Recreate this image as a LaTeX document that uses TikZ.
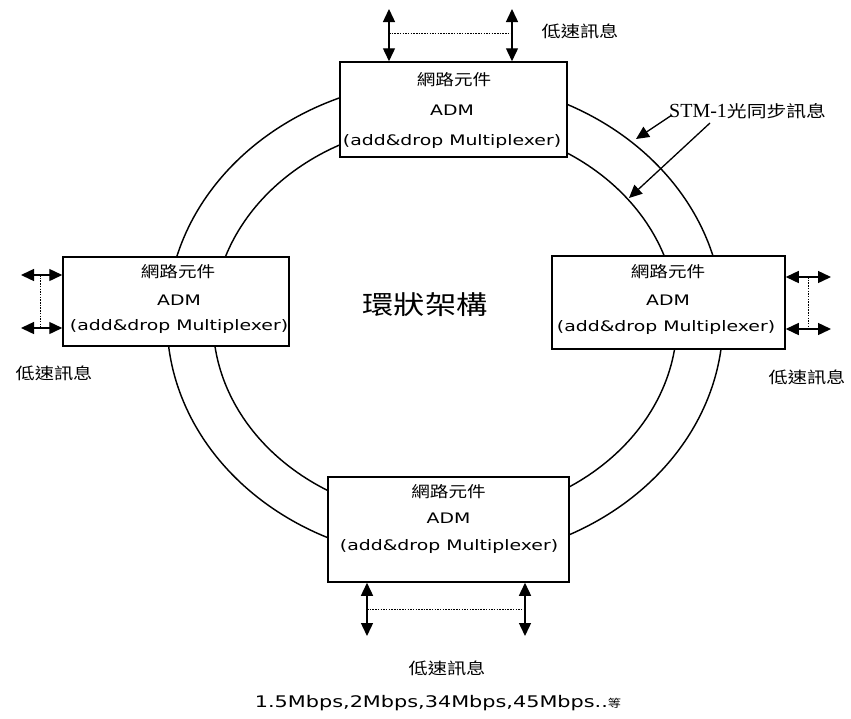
\documentclass[tikz,border=0pt]{standalone}
\usepackage{fontspec}
\setmainfont{Liberation Serif}
\newfontfamily\comic[FakeStretch=1.3]{DejaVu Sans}
\newfontfamily\cjkw[FakeStretch=1.2]{Noto Sans CJK TC}
\usetikzlibrary{arrows.meta}
\begin{document}
\begin{tikzpicture}[x=1pt,y=-1pt,
  ring/.style={line width=1.45pt},
  admbox/.style={draw, line width=1.5pt, fill=white, rectangle, inner sep=0pt},
  tipx/.tip={Triangle[length=13pt,width=12pt]},
  dbl/.style={line width=1.4pt, tipx-tipx},
  single/.style={line width=1.3pt, -tipx},
  dots/.style={line width=0.9pt, dash pattern=on 1.5pt off 1.2pt},
  cjkbox/.style={font={\fontsize{15.5pt}{17pt}\selectfont\cjkw}, inner sep=0pt},
  latbox/.style={font={\fontsize{14.5pt}{17pt}\selectfont\comic}, inner sep=0pt},
  cjklbl/.style={font={\fontsize{16pt}{18pt}\selectfont\cjkw}, inner sep=0pt},
]
\useasboundingbox (0,0) rectangle (851,718);
% ring
\draw[ring] (445,320) ellipse [x radius=278pt, y radius=240pt];
\draw[ring] (445,320.5) ellipse [x radius=232pt, y radius=197pt];

% boxes
\node[admbox, minimum width=227pt, minimum height=95pt] (top) at (453.5,109.5) {};
\node[admbox, minimum width=226pt, minimum height=89pt] (left) at (176,301.5) {};
\node[admbox, minimum width=233pt, minimum height=93pt] (right) at (668.5,302.5) {};
\node[admbox, minimum width=241pt, minimum height=105pt] (bot) at (448.5,529.5) {};

% box texts
\node[cjkbox] (t1) at (454,80) {網路元件};
\node[latbox] (t2) at (452,110) {ADM};
\node[latbox] (t3) at (452,141) {(add\&drop Multiplexer)};
\node[cjkbox] (l1) at (178,272) {網路元件};
\node[latbox] (l2) at (179,300) {ADM};
\node[latbox] (l3) at (179,326) {(add\&drop Multiplexer)};
\node[cjkbox] (r1) at (668,272) {網路元件};
\node[latbox] (r2) at (668,300) {ADM};
\node[latbox] (r3) at (666,327) {(add\&drop Multiplexer)};
\node[cjkbox] (b1) at (448.5,492) {網路元件};
\node[latbox] (b2) at (448.5,518) {ADM};
\node[latbox] (b3) at (449,546) {(add\&drop Multiplexer)};

% top low-speed arrows
\coordinate (ta) at (389,9);
\coordinate (tb) at (512,9);
\draw[dbl] (ta) -- (ta |- top.north);
\draw[dbl] (tb) -- (tb |- top.north);
\coordinate (tda) at (389,33);
\coordinate (tdb) at (512,33);
\draw[dots] (tda) -- (tdb);
\node[cjklbl] (tl) at (580,31) {低速訊息};

% left low-speed arrows
\coordinate (la) at (21,275);
\coordinate (lb) at (21,328);
\draw[dbl] (la) -- (la -| left.west);
\draw[dbl] (lb) -- (lb -| left.west);
\coordinate (lda) at (40,275);
\coordinate (ldb) at (40,328);
\draw[dots] (lda) -- (ldb);
\node[cjklbl] (ll) at (54,373) {低速訊息};

% right low-speed arrows
\coordinate (ra) at (831,277);
\coordinate (rb) at (831,329);
\draw[dbl] (ra -| right.east) -- (ra);
\draw[dbl] (rb -| right.east) -- (rb);
\coordinate (rda) at (808,277);
\coordinate (rdb) at (808,329);
\draw[dots] (rda) -- (rdb);
\node[cjklbl] (rl) at (807,377) {低速訊息};

% bottom low-speed arrows
\coordinate (ba) at (367,636);
\coordinate (bb) at (525,636);
\draw[dbl] (ba |- bot.south) -- (ba);
\draw[dbl] (bb |- bot.south) -- (bb);
\coordinate (bda) at (367,609);
\coordinate (bdb) at (525,609);
\draw[dots] (bda) -- (bdb);
\node[cjklbl] (bl) at (447,668) {低速訊息};
\node[inner sep=0pt] (rates) at (438,703) {{\fontsize{16pt}{18pt}\selectfont\comic 1.5Mbps,2Mbps,34Mbps,45Mbps..}{\fontsize{11pt}{12pt}\selectfont\cjkw 等}};

% STM-1 label and arrows
\node[inner sep=0pt, anchor=west] (stm) at (669,111) {{\fontsize{20pt}{21pt}\selectfont STM-1}{\fontsize{16.5pt}{18pt}\selectfont\cjkw 光同步訊息}};
\coordinate (s1) at (672,115);
\coordinate (s1e) at (636,139);
\coordinate (s2) at (710,123);
\coordinate (s2e) at (629,198);
\draw[single] (s1) -- (s1e);
\draw[single] (s2) -- (s2e);

% centre title
\node[inner sep=0pt, font={\fontsize{26pt}{28pt}\selectfont\cjkw}] (title) at (425,305) {環狀架構};
\end{tikzpicture}
\end{document}
